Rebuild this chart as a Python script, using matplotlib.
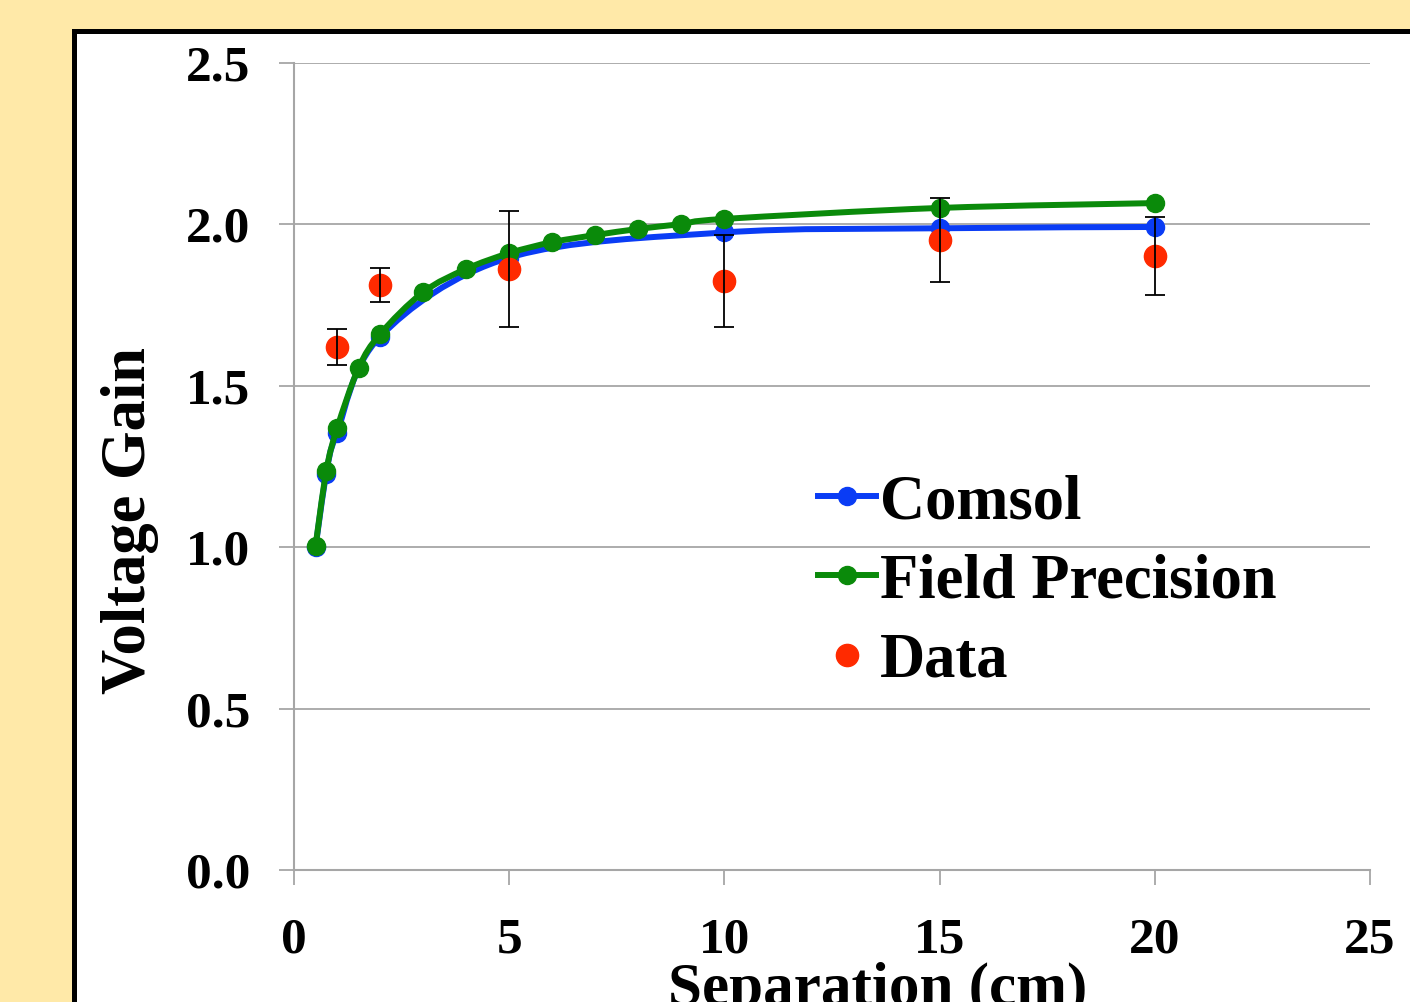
import matplotlib
matplotlib.use("Agg")
import matplotlib.pyplot as plt
from matplotlib.path import Path
from matplotlib.patches import PathPatch, Rectangle
from matplotlib.lines import Line2D

# ---- data ----
comsol_x = [0.5, 0.75, 1, 2, 5, 10, 15, 20]
comsol_y = [1.00, 1.228, 1.355, 1.652, 1.897, 1.975, 1.988, 1.992]

fp_x = [0.5, 0.75, 1, 1.5, 2, 3, 4, 5, 6, 7, 8, 9, 10, 15, 20]
fp_y = [1.003, 1.236, 1.368, 1.555, 1.660, 1.790, 1.862, 1.911, 1.945,
        1.967, 1.986, 2.001, 2.017, 2.051, 2.066]

data_x = [1, 2, 5, 10, 15, 20]
data_y = [1.620, 1.812, 1.862, 1.825, 1.952, 1.902]
data_err = [0.056, 0.053, 0.18, 0.142, 0.13, 0.12]

xticks = [0, 5, 10, 15, 20, 25]
yticks = [0.0, 0.5, 1.0, 1.5, 2.0, 2.5]
ytick_labels = ["0.0", "0.5", "1.0", "1.5", "2.0", "2.5"]

W, H = 1410, 1002
FONT = "Liberation Serif"


def smooth_path(xs, ys):
    """Catmull-Rom style Bezier path through the points (like Excel smoothing)."""
    n = len(xs)
    verts = [(xs[0], ys[0])]
    codes = [Path.MOVETO]
    for i in range(n - 1):
        x0, y0 = (xs[i - 1], ys[i - 1]) if i > 0 else (xs[i], ys[i])
        x1, y1 = xs[i], ys[i]
        x2, y2 = xs[i + 1], ys[i + 1]
        x3, y3 = (xs[i + 2], ys[i + 2]) if i + 2 < n else (xs[i + 1], ys[i + 1])
        c1 = (x1 + (x2 - x0) / 6.0, y1 + (y2 - y0) / 6.0)
        c2 = (x2 - (x3 - x1) / 6.0, y2 - (y3 - y1) / 6.0)
        verts += [c1, c2, (x2, y2)]
        codes += [Path.CURVE4] * 3
    return Path(verts, codes)


fig = plt.figure(figsize=(W / 100, H / 100), dpi=100)
fig.patch.set_facecolor("#FFE9A8")

# white panel with black border
panel = Rectangle((73.5 / W, -0.2), 1.5, 1.2 - 30.5 / H, transform=fig.transFigure,
                  facecolor="white", edgecolor="black", linewidth=3.6, zorder=-10)
fig.patches.append(panel)

ax = fig.add_axes([294 / W, 1 - 870 / H, (1370 - 294) / W, (870 - 63) / H])
ax.set_zorder(1)
ax.set_facecolor("none")
ax.set_xlim(0, 25)
ax.set_ylim(0, 2.5)

blue = "#0A3CF5"
green = "#0A8A0A"
red = "#FF2A00"

ax.add_patch(PathPatch(smooth_path(comsol_x, comsol_y), facecolor="none",
                       edgecolor=blue, linewidth=4.3, zorder=3, capstyle="round"))
ax.plot(comsol_x, comsol_y, linestyle="none", marker="o", markersize=13,
        color=blue, zorder=3)
ax.add_patch(PathPatch(smooth_path(fp_x, fp_y), facecolor="none",
                       edgecolor=green, linewidth=4.3, zorder=4, capstyle="round"))
ax.plot(fp_x, fp_y, linestyle="none", marker="o", markersize=13,
        color=green, zorder=4)
ax.plot(data_x, data_y, linestyle="none", marker="o", markersize=16,
        color=red, zorder=5)
ax.errorbar(data_x, data_y, yerr=data_err, fmt="none", ecolor="black",
            elinewidth=1.3, capsize=7, capthick=1.3, zorder=6)

# axes styling
for s in ["top", "right"]:
    ax.spines[s].set_visible(False)
for s in ["left", "bottom"]:
    ax.spines[s].set_color("#A6A6A6")
    ax.spines[s].set_linewidth(1.5)
ax.set_axisbelow(True)
ax.grid(axis="y", color="#A6A6A6", linewidth=1.3)
ax.set_xticks(xticks)
ax.set_xticklabels([str(t) for t in xticks])
ax.set_yticks(yticks)
ax.set_yticklabels(ytick_labels)
ax.tick_params(axis="both", direction="out", length=10.5, width=1.3,
               color="#A6A6A6", labelsize=37)
ax.tick_params(axis="y", pad=21)
ax.tick_params(axis="x", pad=24)
for lab in ax.get_xticklabels() + ax.get_yticklabels():
    lab.set_fontfamily(FONT)
    lab.set_fontweight("bold")

fig.text(130 / W, 1 - 520 / H, "Voltage Gain", rotation=90, ha="center",
         va="center", fontsize=45, fontweight="bold", family=FONT)
fig.text(878 / W, 1 - 1005 / H, "Separation (cm)", ha="center",
         va="baseline", fontsize=44, fontweight="bold", family=FONT)

handles = [
    Line2D([], [], color=blue, linewidth=4.3, marker="o", markersize=13),
    Line2D([], [], color=green, linewidth=4.3, marker="o", markersize=13),
    Line2D([], [], color=red, linestyle="none", marker="o", markersize=16),
]
leg = ax.legend(handles, ["Comsol", "Field Precision", "Data"],
                loc="upper left", bbox_to_anchor=(818 / W, 1 - 474 / H),
                bbox_transform=fig.transFigure, frameon=False,
                borderpad=0, borderaxespad=0, handlelength=0.93,
                handletextpad=0.06, labelspacing=0.34,
                prop={"family": FONT, "weight": "bold", "size": 45})

fig.savefig("out.png", dpi=100)
